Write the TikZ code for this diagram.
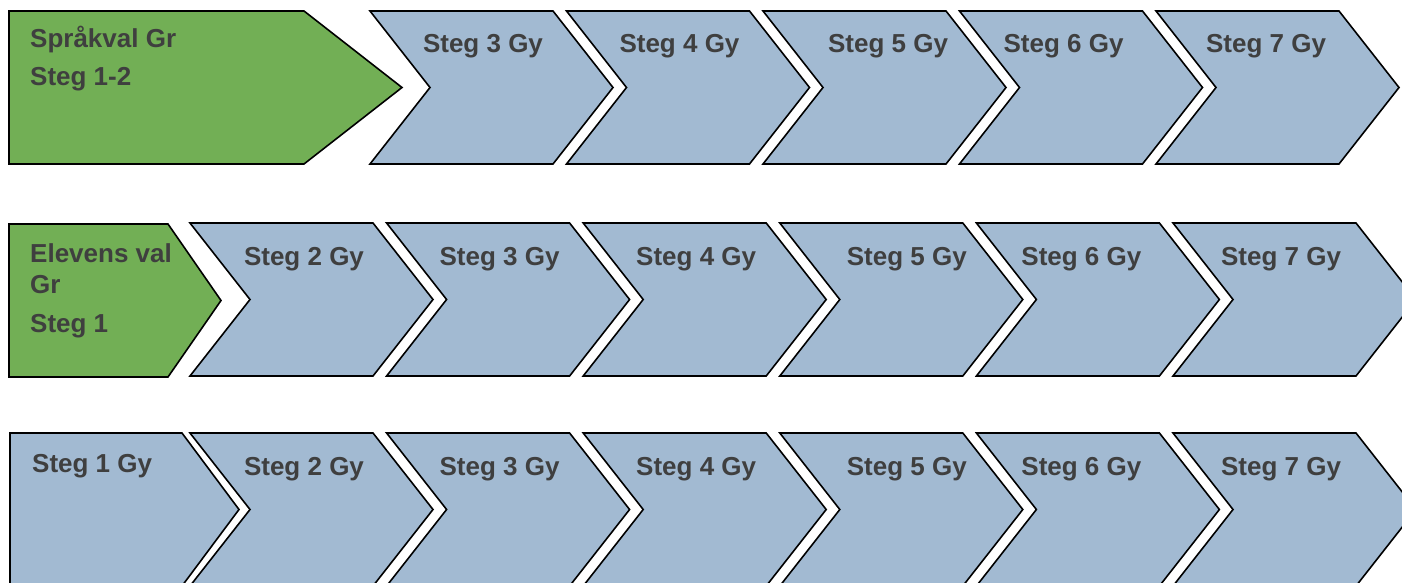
\documentclass[tikz,border=0pt]{standalone}
\usepackage{fontspec}
\setmainfont{Liberation Sans}
\usepackage{tikz}
\usetikzlibrary{positioning}
\definecolor{gyblue}{HTML}{A2BAD2}
\definecolor{grgreen}{HTML}{72AF55}
\definecolor{labelgrey}{HTML}{3F3F3F}
\tikzset{
    every node/.style={font=\fontsize{26}{31}\selectfont\bfseries,text=labelgrey,inner sep=0pt},
    stepbox/.style={draw=black,line width=1.6pt,fill=gyblue,line join=miter},
    choicebox/.style={draw=black,line width=1.6pt,fill=grgreen,line join=miter},
    steplabel/.style={anchor=base},
    choicelabel/.style={anchor=base west}
}

\begin{document}
\begin{tikzpicture}[x=1pt,y=-1pt]
\useasboundingbox (0,0) rectangle (1402,583);
\clip (0,0) rectangle (1402,583);

% rad 1: Språkval
\draw[choicebox] (9,11) -- (304,11) -- (402,87.5) -- (304,164) -- (9,164) -- cycle;
\node[choicelabel] (sprakval) at (30,48)
    {\begin{tabular}[t]{@{}l@{}}Språkval Gr\\[7pt]Steg 1-2\end{tabular}};
\foreach \s/\dx in {3/113,4/113,5/125,6/104,7/110} {
    \pgfmathsetmacro{\l}{370+(\s-3)*196.5}
    \draw[stepbox] (\l,11) -- ++(183,0) -- ++(60,76.5) -- ++(-60,76.5)
        -- ++(-183,0) -- ++(60,-76.5) -- cycle;
    \node[steplabel] (r1s\s) at (\l+\dx,53) {Steg \s\ Gy};
}

% rad 2: Elevens val
\draw[choicebox] (9,224) -- (168,224) -- (221,300.5) -- (168,377) -- (9,377) -- cycle;
\node[choicelabel] (elevensval) at (30,262)
    {\begin{tabular}[t]{@{}l@{}}Elevens val\\Gr\\[8pt]Steg 1\end{tabular}};
\foreach \s/\dx in {2/114,3/113,4/113,5/127,6/105,7/108} {
    \pgfmathsetmacro{\l}{190+(\s-2)*196.6}
    \draw[stepbox] (\l,223) -- ++(183,0) -- ++(60,76.5) -- ++(-60,76.5)
        -- ++(-183,0) -- ++(60,-76.5) -- cycle;
    \node[steplabel] (r2s\s) at (\l+\dx,265) {Steg \s\ Gy};
}

% rad 3: bara Gy
\draw[stepbox] (10,433) -- (182,433) -- (239,509.5) -- (182,586) -- (10,586) -- cycle;
\node[choicelabel] (r3s1) at (32,472) {Steg 1 Gy};
\foreach \s/\dx in {2/114,3/113,4/113,5/127,6/105,7/108} {
    \pgfmathsetmacro{\l}{190+(\s-2)*196.6}
    \draw[stepbox] (\l,433) -- ++(183,0) -- ++(60,76.5) -- ++(-60,76.5)
        -- ++(-183,0) -- ++(60,-76.5) -- cycle;
    \node[steplabel] (r3s\s) at (\l+\dx,475) {Steg \s\ Gy};
}
\end{tikzpicture}
\end{document}
